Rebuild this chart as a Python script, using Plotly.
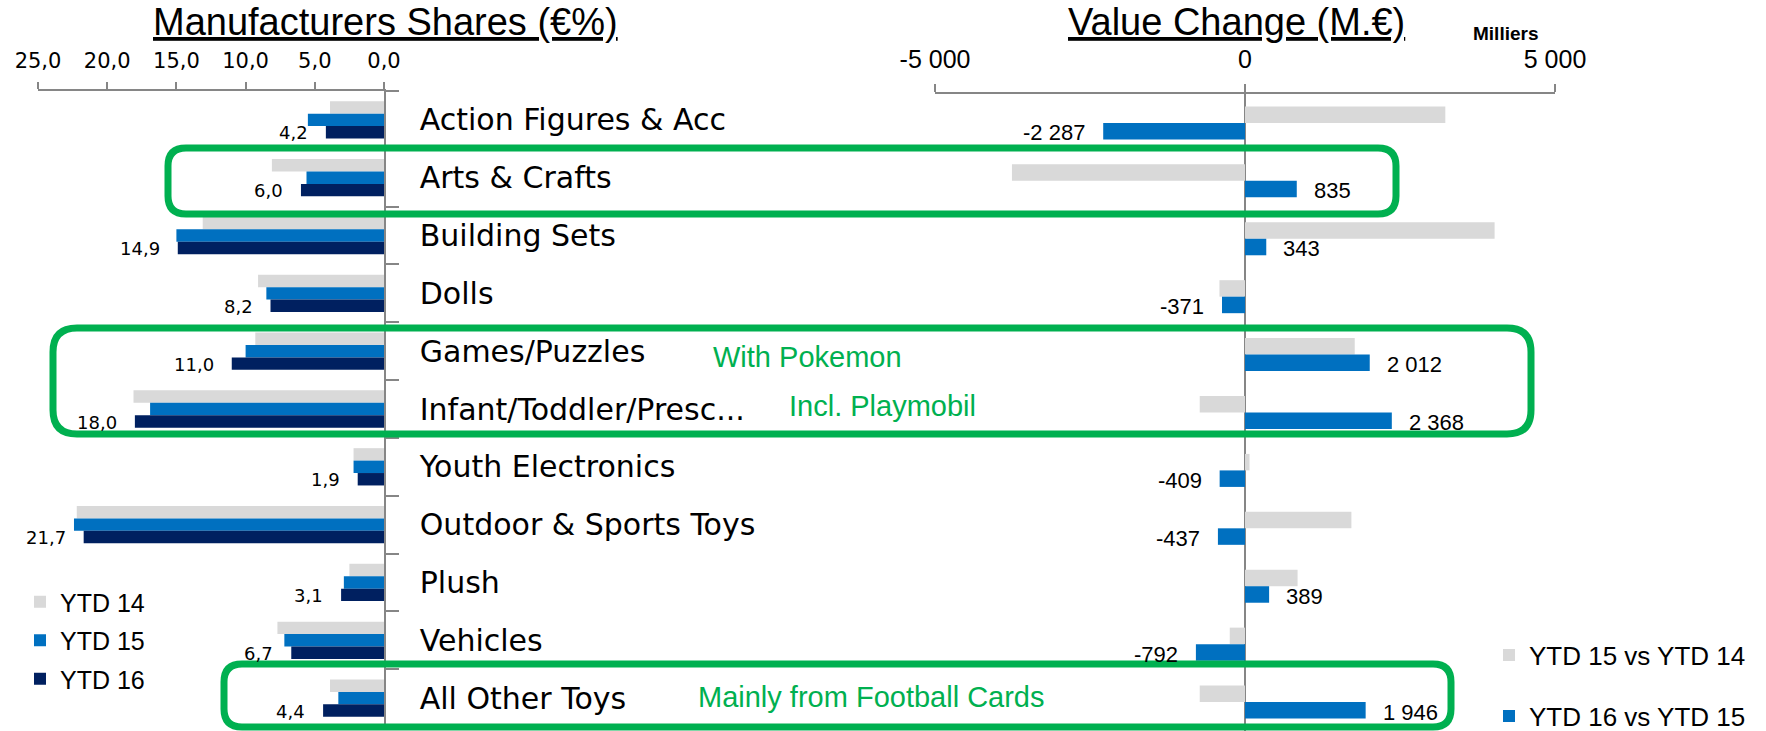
import plotly.graph_objects as go

# ---------------- data ----------------
categories = ["Action Figures & Acc", "Arts & Crafts", "Building Sets", "Dolls",
              "Games/Puzzles", "Infant/Toddler/Presc...", "Youth Electronics",
              "Outdoor & Sports Toys", "Plush", "Vehicles", "All Other Toys"]

share_ytd14 = [3.9, 8.1, 13.1, 9.1, 9.3, 18.1, 2.2, 22.2, 2.5, 7.7, 3.9]
share_ytd15 = [5.5, 5.6, 15.0, 8.5, 10.0, 16.9, 2.2, 22.4, 2.9, 7.2, 3.3]
share_ytd16 = [4.2, 6.0, 14.9, 8.2, 11.0, 18.0, 1.9, 21.7, 3.1, 6.7, 4.4]

change_15_vs_14 = [3231, -3759, 4026, -412, 1770, -730, 73, 1716, 848, -246, -730]
change_16_vs_15 = [-2287, 835, 343, -371, 2012, 2368, -409, -437, 389, -792, 1946]

left_tickvals = [25, 20, 15, 10, 5, 0]
left_ticktext = ["25,0", "20,0", "15,0", "10,0", "5,0", "0,0"]
right_tickvals = [-5000, 0, 5000]
right_ticktext = ["-5 000", "0", "5 000"]

# ---------------- styling ----------------
W, H = 1766, 731
GRAY, BLUE, NAVY, GREEN, AXIS = "#D9D9D9", "#0070C0", "#002060", "#00B050", "#868686"
SANS = "Liberation Sans, Arial, sans-serif"
WIDE = "DejaVu Sans, Verdana, sans-serif"


def px_x(p):
    return p / W


def px_y(p):
    return 1 - p / H


fig = go.Figure()

left_series = [("YTD 14", share_ytd14, GRAY, -0.3225),
               ("YTD 15", share_ytd15, BLUE, -0.1075),
               ("YTD 16", share_ytd16, NAVY, 0.1075)]
for name, vals, col, off in left_series:
    fig.add_trace(go.Bar(
        y=categories, x=vals, orientation="h", name=name,
        marker=dict(color=col, line=dict(width=0)),
        width=0.215, offset=off, xaxis="x", yaxis="y",
        legend="legend", legendgroup=name, hoverinfo="skip"))

right_series = [("YTD 15 vs YTD 14", change_15_vs_14, GRAY, -0.285, "legend2"),
                ("YTD 16 vs YTD 15", change_16_vs_15, BLUE, 0.0, "legend3")]
for name, vals, col, off, leg in right_series:
    fig.add_trace(go.Bar(
        y=categories, x=vals, orientation="h", name=name,
        marker=dict(color=col, line=dict(width=0)),
        width=0.285, offset=off, xaxis="x2", yaxis="y2",
        legend=leg, legendgroup=name, hoverinfo="skip"))

annotations = []
# data labels – left (YTD 16)
for c, v in zip(categories, share_ytd16):
    annotations.append(dict(
        x=v, y=c, xref="x", yref="y", text=f"{v:.1f}".replace(".", ","),
        showarrow=False, xanchor="right", yanchor="middle", xshift=-16, yshift=-13,
        font=dict(family=WIDE, size=18, color="black")))
# data labels – right (YTD 16 vs YTD 15)
for c, v in zip(categories, change_16_vs_15):
    txt = f"{v:,}".replace(",", " ")
    annotations.append(dict(
        x=v, y=c, xref="x2", yref="y2", text=txt, showarrow=False,
        xanchor="left" if v > 0 else "right", xshift=15 if v > 0 else -16,
        yanchor="middle", yshift=-10,
        font=dict(family=SANS, size=22, color="black")))

# titles and notes
annotations += [
    dict(x=px_x(385), y=px_y(22), xref="paper", yref="paper", text="Manufacturers Shares (€%)",
         showarrow=False, xanchor="center", yanchor="middle",
         font=dict(family=SANS, size=38, color="black", lineposition="under")),
    dict(x=px_x(1236), y=px_y(22), xref="paper", yref="paper", text="Value Change (M.€)",
         showarrow=False, xanchor="center", yanchor="middle",
         font=dict(family=SANS, size=38, color="black", lineposition="under")),
    dict(x=px_x(1505), y=px_y(33), xref="paper", yref="paper", text="<b>Milliers</b>",
         showarrow=False, xanchor="center", yanchor="middle",
         font=dict(family=SANS, size=19, color="black")),
    dict(x=px_x(711), y=px_y(357), xref="paper", yref="paper", text="With Pokemon",
         showarrow=False, xanchor="left", yanchor="middle",
         font=dict(family=SANS, size=29, color=GREEN)),
    dict(x=px_x(787), y=px_y(406), xref="paper", yref="paper", text="Incl. Playmobil",
         showarrow=False, xanchor="left", yanchor="middle",
         font=dict(family=SANS, size=29, color=GREEN)),
    dict(x=px_x(696), y=px_y(697), xref="paper", yref="paper", text="Mainly from Football Cards",
         showarrow=False, xanchor="left", yanchor="middle",
         font=dict(family=SANS, size=29, color=GREEN)),
]


def rounded_box(x0, y0, x1, y1, r):
    rx, ry = r / W, r / H
    X0, X1 = px_x(x0), px_x(x1)
    Yt, Yb = px_y(y0), px_y(y1)
    return (f"M{X0 + rx},{Yt} L{X1 - rx},{Yt} Q{X1},{Yt} {X1},{Yt - ry} "
            f"L{X1},{Yb + ry} Q{X1},{Yb} {X1 - rx},{Yb} "
            f"L{X0 + rx},{Yb} Q{X0},{Yb} {X0},{Yb + ry} "
            f"L{X0},{Yt - ry} Q{X0},{Yt} {X0 + rx},{Yt} Z")


shapes = [
    dict(type="path", xref="paper", yref="paper", path=rounded_box(168, 148, 1396, 214, 18),
         line=dict(color=GREEN, width=7), layer="above"),
    dict(type="path", xref="paper", yref="paper", path=rounded_box(53, 328, 1531, 434, 24),
         line=dict(color=GREEN, width=7), layer="above"),
    dict(type="path", xref="paper", yref="paper", path=rounded_box(224, 664, 1451, 727, 18),
         line=dict(color=GREEN, width=7), layer="above"),
]

fig.update_layout(
    width=W, height=H, margin=dict(l=0, r=0, t=0, b=0, pad=0, autoexpand=False),
    paper_bgcolor="white", plot_bgcolor="white",
    barmode="overlay", showlegend=True, hovermode=False,
    annotations=annotations, shapes=shapes,
    xaxis=dict(domain=[px_x(38), px_x(384)], range=[25, 0], side="top", anchor="y",
               tickmode="array", tickvals=left_tickvals, ticktext=left_ticktext,
               ticks="outside", ticklen=7, tickcolor=AXIS, tickwidth=1.5,
               showline=True, linecolor=AXIS, linewidth=1.5, showgrid=False, zeroline=False,
               tickfont=dict(family=WIDE, size=21, color="black"), ticklabelstandoff=6,
               automargin=False, fixedrange=True),
    yaxis=dict(domain=[px_y(727), px_y(91)], anchor="x", side="right", type="category",
               autorange="reversed", ticks="outside", tickson="boundaries", ticklen=13,
               tickcolor=AXIS, tickwidth=1.5, showline=True, linecolor=AXIS, linewidth=1.5,
               showgrid=False, zeroline=False, ticklabelstandoff=28, automargin=False,
               tickfont=dict(family=WIDE, size=30, color="black"), fixedrange=True),
    xaxis2=dict(domain=[px_x(935), px_x(1555)], range=[-5000, 5000], side="top", anchor="y2",
                tickmode="array", tickvals=right_tickvals, ticktext=right_ticktext,
                ticks="outside", ticklen=8, tickcolor=AXIS, tickwidth=1.5,
                showline=True, linecolor=AXIS, linewidth=1.5, showgrid=False,
                zeroline=True, zerolinecolor=AXIS, zerolinewidth=1.5,
                tickfont=dict(family=SANS, size=25, color="black"), ticklabelstandoff=6,
                automargin=False, fixedrange=True),
    yaxis2=dict(domain=[0, px_y(94)], anchor="x2", type="category", autorange="reversed",
                showticklabels=False, ticks="", showline=False, showgrid=False,
                zeroline=False, automargin=False, fixedrange=True),
    legend=dict(x=px_x(20), y=px_y(579), xanchor="left", yanchor="top",
                bgcolor="rgba(0,0,0,0)", tracegroupgap=3,
                font=dict(family=SANS, size=25, color="black")),
    legend2=dict(x=px_x(1489), y=px_y(655), xanchor="left", yanchor="middle",
                 bgcolor="rgba(0,0,0,0)",
                 font=dict(family=SANS, size=26, color="black")),
    legend3=dict(x=px_x(1489), y=px_y(716), xanchor="left", yanchor="middle",
                 bgcolor="rgba(0,0,0,0)",
                 font=dict(family=SANS, size=26, color="black")),
)

fig.write_html("out.html", config={"displayModeBar": False},
               post_script="document.body.style.margin='0px';document.body.style.overflow='hidden';")
